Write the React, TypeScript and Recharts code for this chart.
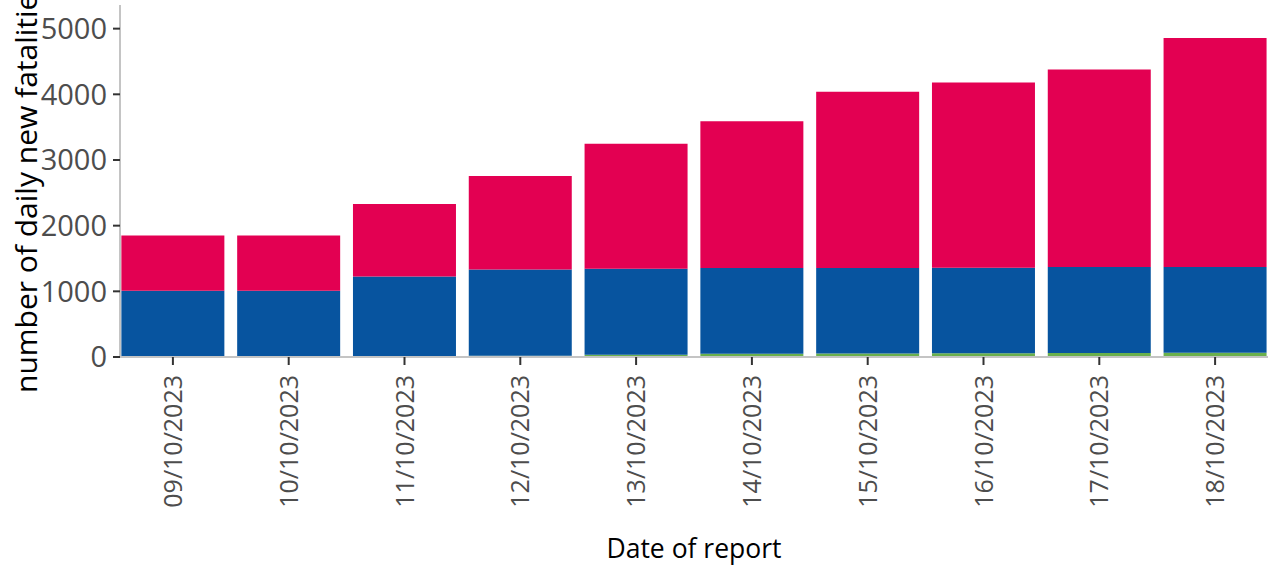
import { BarChart, Bar, XAxis, YAxis } from 'recharts'

const dates = [
  '09/10/2023', '10/10/2023', '11/10/2023', '12/10/2023', '13/10/2023',
  '14/10/2023', '15/10/2023', '16/10/2023', '17/10/2023', '18/10/2023'
]
const greenVals = [0, 0, 0, 20, 35, 50, 55, 58, 60, 64]
const blueVals = [1010, 1010, 1225, 1313, 1310, 1305, 1300, 1300, 1310, 1308]
const redVals = [840, 840, 1105, 1422, 1903, 2236, 2683, 2821, 3007, 3487]
const yTicks = [0, 1000, 2000, 3000, 4000, 5000]

const data = dates.map((date, i) => ({
  date,
  green: greenVals[i],
  blue: blueVals[i],
  red: redVals[i]
}))

const FONT = '"Open Sans", sans-serif'

function DateTick({ x, y, payload }: any) {
  return (
    <text
      x={x}
      y={y}
      transform={`rotate(-90 ${x} ${y})`}
      textAnchor="end"
      dy="0.36em"
      fill="#4d4d4d"
      fontSize={25}
      fontFamily={FONT}
    >
      {payload.value}
    </text>
  )
}

export default function App() {
  return (
    <div style={{ position: 'absolute', left: 0, top: 0, width: 1268, height: 570, background: '#fff' }}>
      <BarChart
        width={1268}
        height={570}
        data={data}
        margin={{ top: 5, right: 0, bottom: 0, left: 0 }}
        barCategoryGap="5.5%"
      >
        <XAxis
          dataKey="date"
          height={213}
          padding={{ left: -5, right: -5 }}
          interval={0}
          tick={<DateTick />}
          tickSize={8}
          tickMargin={10}
          tickLine={{ stroke: '#333', strokeWidth: 2 }}
          axisLine={{ stroke: '#c4c4c4', strokeWidth: 2 }}
          label={{
            content: () => (
              <text x={694} y={558} textAnchor="middle" fontSize={26.5} fontFamily={FONT} fill="#000">
                Date of report
              </text>
            )
          }}
        />
        <YAxis
          width={120}
          domain={[0, 5360]}
          ticks={yTicks}
          interval={0}
          tickSize={7}
          tickMargin={6}
          tick={{ fill: '#4d4d4d', fontSize: 29, fontFamily: FONT }}
          tickLine={{ stroke: '#333', strokeWidth: 2 }}
          axisLine={{ stroke: '#c4c4c4', strokeWidth: 2 }}
          label={{
            content: () => (
              <text
                x={37}
                y={393}
                transform="rotate(-90 37 393)"
                textAnchor="start"
                fontSize={30}
                fontFamily={FONT}
                fill="#000"
              >
                number of daily new fatalities
              </text>
            )
          }}
        />
        <Bar dataKey="green" stackId="a" fill="#6ab04c" isAnimationActive={false} />
        <Bar dataKey="blue" stackId="a" fill="#07549f" isAnimationActive={false} />
        <Bar dataKey="red" stackId="a" fill="#e30052" isAnimationActive={false} />
      </BarChart>
    </div>
  )
}
